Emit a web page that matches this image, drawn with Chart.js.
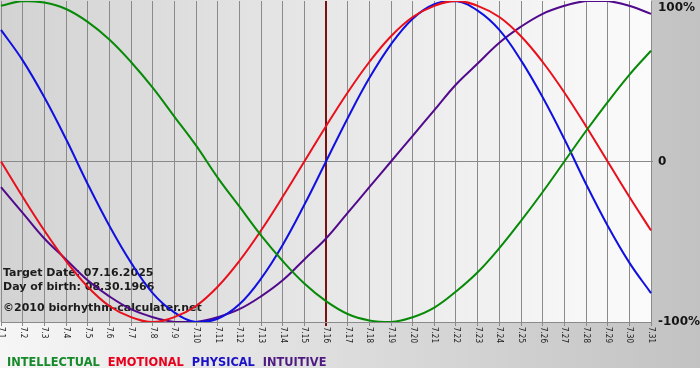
<!DOCTYPE html>
<html>
<head>
<meta charset="utf-8">
<script src="https://cdn.jsdelivr.net/npm/chart.js@4/dist/chart.umd.min.js"></script>
<style>
  html, body { margin: 0; padding: 0; background: #fff; }
  #wrap { width: 700px; height: 380px; }
</style>
</head>
<body>
<div id="wrap"><canvas id="bioChart" width="700" height="380"></canvas></div>
<script>
  // Days shown (July 2025)
  const days = ['7.1','7.2','7.3','7.4','7.5','7.6','7.7','7.8','7.9','7.10','7.11','7.12','7.13','7.14','7.15','7.16',
    '7.17','7.18','7.19','7.20','7.21','7.22','7.23','7.24','7.25','7.26','7.27','7.28','7.29','7.30','7.31'];
  const targetDay = '7.16';

  // Series values (-1 .. 1)
  const intellectual = [0.97, 1.00, 0.99, 0.95, 0.87, 0.76, 0.62, 0.46, 0.28, 0.10, -0.10, -0.28, -0.46, -0.62, -0.76, -0.87,
    -0.95, -0.99, -1.00, -0.97, -0.91, -0.81, -0.69, -0.54, -0.37, -0.19, 0.00, 0.19, 0.37, 0.54, 0.69];
  const emotional = [0.00, -0.22, -0.43, -0.62, -0.78, -0.90, -0.97, -1.00, -0.97, -0.90, -0.78, -0.62, -0.43, -0.22, 0.00, 0.22,
    0.43, 0.62, 0.78, 0.90, 0.97, 1.00, 0.97, 0.90, 0.78, 0.62, 0.43, 0.22, 0.00, -0.22, -0.43];
  const physical = [0.82, 0.63, 0.40, 0.14, -0.14, -0.40, -0.63, -0.82, -0.94, -1.00, -0.98, -0.89, -0.73, -0.52, -0.27, 0.00,
    0.27, 0.52, 0.73, 0.89, 0.98, 1.00, 0.94, 0.82, 0.63, 0.40, 0.14, -0.14, -0.40, -0.63, -0.82];
  const intuitive = [-0.16, -0.32, -0.48, -0.61, -0.74, -0.84, -0.92, -0.97, -1.00, -1.00, -0.97, -0.92, -0.84, -0.74, -0.61, -0.48,
    -0.32, -0.16, 0.00, 0.16, 0.32, 0.48, 0.61, 0.74, 0.84, 0.92, 0.97, 1.00, 1.00, 0.97, 0.92];

  const seriesNames = ['INTELLECTUAL', 'EMOTIONAL', 'PHYSICAL', 'INTUITIVE'];
  const lineColors = ['#078a07', '#e8101c', '#1010e0', '#520a8c'];
  const legendColors = ['#168a2a', '#e8001c', '#1a10c8', '#4f1a80'];

  const yTicks = [-1, 0, 1];
  const infoLines = ['Target Date: 07.16.2025', 'Day of birth: 08.30.1966', '\u00a92010 biorhythm-calculater.net'];

  // Backgrounds: outer gradient + plot gradient
  const backgroundPlugin = {
    id: 'bgPlugin',
    beforeDraw(chart) {
      const { ctx, chartArea: a, width, height } = chart;
      ctx.save();
      ctx.fillStyle = '#ffffff';
      ctx.fillRect(0, 0, width, height);
      const outer = ctx.createLinearGradient(0, 0, width, 0);
      outer.addColorStop(0, '#f6f6f6');
      outer.addColorStop(1, '#c2c2c2');
      ctx.fillStyle = outer;
      ctx.fillRect(0, 0, width, 368);
      const inner = ctx.createLinearGradient(a.left, 0, a.right, 0);
      inner.addColorStop(0, '#d3d3d3');
      inner.addColorStop(1, '#fbfbfb');
      ctx.fillStyle = inner;
      ctx.fillRect(0, 0, a.right, a.bottom);
      ctx.restore();
    },
    beforeDatasetsDraw(chart) {
      const { ctx } = chart;
      ctx.save();
      ctx.font = 'bold 11px "DejaVu Sans", Verdana, sans-serif';
      ctx.fillStyle = '#1c1c1c';
      ctx.textBaseline = 'alphabetic';
      ctx.fillText(infoLines[0], 3, 276);
      ctx.fillText(infoLines[1], 3, 290);
      ctx.fillText(infoLines[2], 3, 311);
      ctx.restore();
    },
    afterDraw(chart) {
      const { ctx } = chart;
      const xs = chart.scales.x;
      ctx.save();
      // rotated day labels
      ctx.font = '8px "DejaVu Sans Condensed", "DejaVu Sans", sans-serif';
      ctx.fillStyle = '#1c1c1c';
      ctx.textAlign = 'left';
      ctx.textBaseline = 'middle';
      days.forEach((d, i) => {
        ctx.save();
        ctx.translate(xs.getPixelForTick(i), chart.chartArea.bottom + 5);
        ctx.rotate(Math.PI / 2);
        ctx.fillText(d, 0, 0);
        ctx.restore();
      });
      // legend
      ctx.font = 'bold 11.4px "DejaVu Sans", Verdana, sans-serif';
      ctx.textBaseline = 'alphabetic';
      let x = 7;
      chart.data.datasets.forEach((ds, i) => {
        ctx.fillStyle = legendColors[i];
        ctx.fillText(ds.label, x, 366);
        x += ctx.measureText(ds.label).width + 8;
      });
      ctx.restore();
    }
  };

  const makeSet = (label, data, color) => ({
    label, data,
    borderColor: color,
    borderWidth: 2,
    pointRadius: 0,
    tension: 0.4,
    fill: false
  });

  new Chart(document.getElementById('bioChart'), {
    type: 'line',
    data: {
      labels: days,
      datasets: [
        makeSet(seriesNames[0], intellectual, lineColors[0]),
        makeSet(seriesNames[1], emotional, lineColors[1]),
        makeSet(seriesNames[2], physical, lineColors[2]),
        makeSet(seriesNames[3], intuitive, lineColors[3])
      ]
    },
    options: {
      responsive: false,
      animation: false,
      layout: { padding: { left: 1, top: 1, right: 0, bottom: 0 } },
      plugins: {
        legend: { display: false },
        tooltip: { enabled: false }
      },
      scales: {
        x: {
          type: 'category',
          offset: false,
          afterFit: scale => {
            scale.height = 58;
            scale.paddingLeft = 0;
            scale.paddingRight = 0;
          },
          grid: {
            color: c => (days[c.index] === targetDay ? '#7a1212' : '#8a8a8a'),
            lineWidth: c => (days[c.index] === targetDay ? 2 : 1),
            tickLength: 4
          },
          border: { color: '#8a8a8a' },
          ticks: { display: false, autoSkip: false }
        },
        y: {
          position: 'right',
          min: -1,
          max: 1,
          afterBuildTicks: scale => { scale.ticks = yTicks.map(v => ({ value: v })); },
          afterFit: scale => {
            scale.width = 49;
            scale.paddingTop = 0;
            scale.paddingBottom = 0;
          },
          grid: {
            color: c => (c.tick && c.tick.value === 0 ? '#8a8a8a' : 'rgba(0,0,0,0)'),
            tickLength: 2
          },
          border: { display: false },
          ticks: {
            padding: 5,
            color: '#141414',
            font: { family: '"DejaVu Sans", Verdana, sans-serif', size: 12, weight: 'bold' },
            callback: v => (v === 1 ? ['', '100%'] : v === 0 ? '0' : '-100%')
          }
        }
      }
    },
    plugins: [backgroundPlugin]
  });
</script>
</body>
</html>
